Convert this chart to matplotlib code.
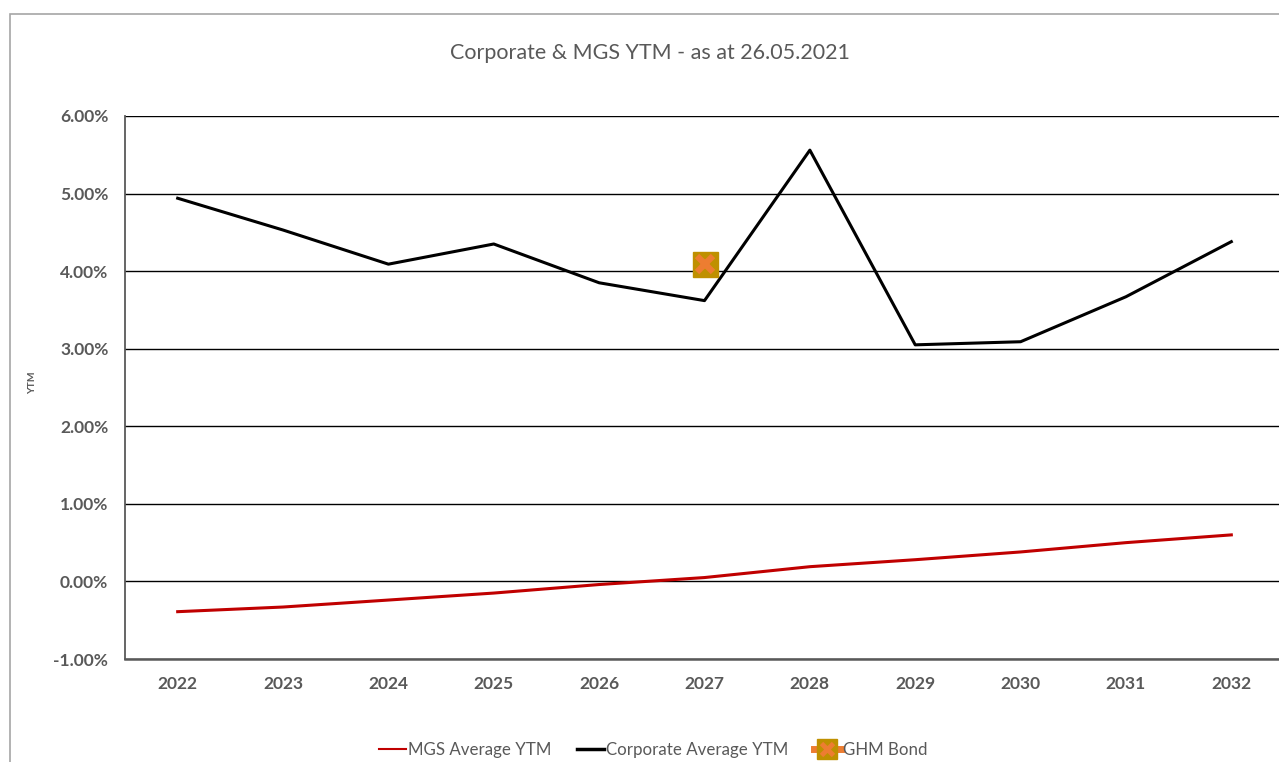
import matplotlib.pyplot as plt
from matplotlib.patches import Rectangle
from matplotlib.lines import Line2D
from matplotlib.ticker import FuncFormatter

years = ['2022', '2023', '2024', '2025', '2026', '2027', '2028', '2029', '2030', '2031', '2032']
mgs_ytm = [-0.39, -0.33, -0.24, -0.15, -0.04, 0.05, 0.19, 0.28, 0.38, 0.50, 0.60]
corp_ytm = [4.94, 4.53, 4.09, 4.35, 3.85, 3.62, 5.56, 3.05, 3.09, 3.67, 4.38]
ghm_year = '2027'
ghm_ytm = 4.09

plt.rcParams['font.family'] = ['Lato', 'DejaVu Sans']
grey = '#595959'

fig = plt.figure(figsize=(12.79, 7.62), dpi=100)
# outer chart frame
fig.patches.append(Rectangle((10 / 1279, -0.05), 1.2, 1 - 14 / 762 + 0.05, transform=fig.transFigure,
                             fill=False, edgecolor='#a6a6a6', linewidth=1.2))

ax = fig.add_axes([125 / 1279, 1 - 659 / 762, 1159 / 1279, 543 / 762])
x = list(range(len(years)))
ax.plot(x, mgs_ytm, color='#c00000', linewidth=2.2, label='MGS Average YTM', zorder=3)
ax.plot(x, corp_ytm, color='black', linewidth=2.2, label='Corporate Average YTM', zorder=3)
gx = years.index(ghm_year)
ax.plot([gx], [ghm_ytm], marker='s', markersize=18, color='#bf9000', markeredgecolor='#c09000',
        linestyle='none', zorder=4)
ax.plot([gx], [ghm_ytm], marker='x', markersize=11, color='#ed7d31', markeredgewidth=4.5,
        linestyle='none', zorder=5)

ax.set_xlim(-0.5, len(years) - 0.5)
ax.set_ylim(-1, 6)
ax.set_yticks(range(-1, 7))
ax.yaxis.set_major_formatter(FuncFormatter(lambda v, p: f'{v:.2f}%'))
ax.set_xticks(x)
ax.set_xticklabels(years)
ax.grid(axis='y', color='black', linewidth=1)
ax.set_axisbelow(True)
for s in ['top', 'right']:
    ax.spines[s].set_visible(False)
ax.spines['left'].set_color(grey)
ax.spines['bottom'].set_color(grey)
ax.spines['left'].set_linewidth(1.3)
ax.spines['bottom'].set_linewidth(1.8)
ax.tick_params(length=0, labelsize=12.5, labelcolor=grey, pad=12)
for lbl in ax.get_xticklabels() + ax.get_yticklabels():
    lbl.set_fontweight('bold')

fig.text(33 / 1279, 1 - 383 / 762, 'YTM', rotation=90, fontsize=7.5, color=grey, ha='center', va='center',
         fontweight='bold')
fig.text(650 / 1279, 1 - 53 / 762, 'Corporate & MGS YTM - as at 26.05.2021', fontsize=15.5, color=grey,
         ha='center', va='center')

handles = [
    Line2D([], [], color='#c00000', linewidth=1.5),
    Line2D([], [], color='black', linewidth=2.5),
    (Line2D([], [], color='#ed7d31', linewidth=5),
     Line2D([], [], marker='s', markersize=14, color='#bf9000', linestyle='none'),
     Line2D([], [], marker='x', markersize=8, color='#ed7d31', markeredgewidth=3.5, linestyle='none')),
]
fig.legend(handles, ['MGS Average YTM', 'Corporate Average YTM', 'GHM Bond'],
           loc='center', bbox_to_anchor=(653 / 1279, 1 - 750 / 762), ncol=3, frameon=False,
           fontsize=12.2, labelcolor=grey, handlelength=1.6, handletextpad=0.12, columnspacing=1.5)

fig.savefig('out.png', dpi=100)
